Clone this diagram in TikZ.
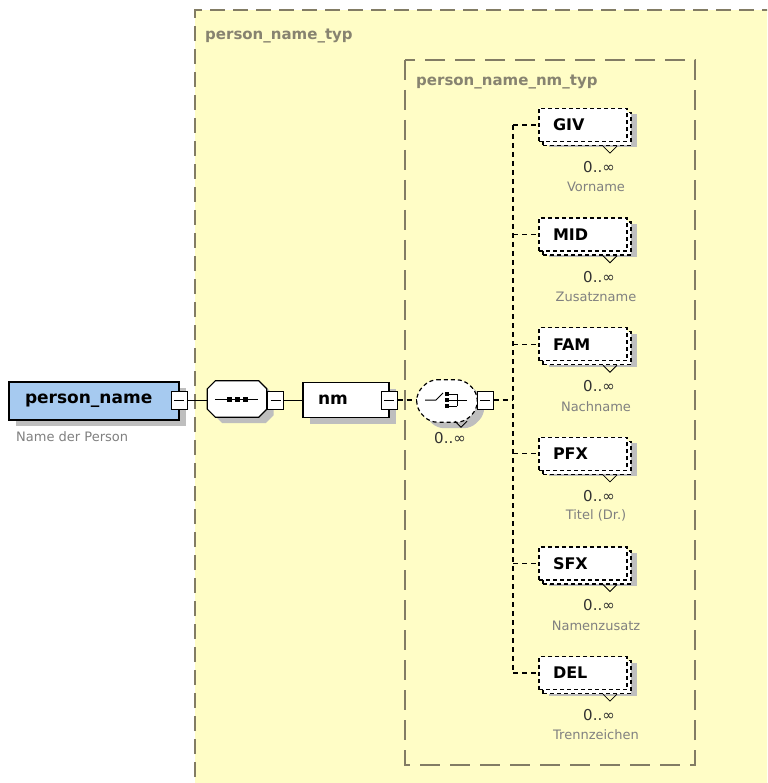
\documentclass[tikz,border=0pt]{standalone}
\usepackage{fontspec}
\setmainfont{DejaVu Sans}
\usetikzlibrary{shadows,positioning}

\definecolor{typfill}{RGB}{255,253,198}
\definecolor{typline}{RGB}{130,124,100}
\definecolor{typtext}{RGB}{135,131,112}
\definecolor{elemblue}{RGB}{166,202,240}
\definecolor{shadowgray}{RGB}{190,190,190}
\definecolor{notegray}{RGB}{128,128,128}
\definecolor{multgray}{RGB}{50,50,50}

\newcommand\fs[1]{\fontsize{#1}{#1}\selectfont}
% octagon round a node, corners cut by #2
\newcommand\oct[2]{([xshift=#2]#1.north west) -- ([xshift=-#2]#1.north east)
  -- ([yshift=-#2]#1.north east) -- ([yshift=#2]#1.south east)
  -- ([xshift=-#2]#1.south east) -- ([xshift=#2]#1.south west)
  -- ([yshift=#2]#1.south west) -- ([yshift=-#2]#1.north west) -- cycle}

\tikzset{
  typbox/.style={draw=typline, line width=1.3pt, dash pattern=on 15pt off 8pt},
  typlabel/.style={anchor=west, inner sep=0pt, text=typtext, font=\fs{15}\bfseries},
  elem/.style={draw, line width=1.2pt, fill=white, inner ysep=0pt, align=left,
    font=\fs{17}\bfseries,
    drop shadow={shadow xshift=7pt, shadow yshift=-6pt, fill=shadowgray, opacity=1, draw=none}},
  child/.style={draw, line width=1.2pt, dash pattern=on 4pt off 3pt, fill=white,
    minimum height=33pt, text width=60pt, inner xsep=14pt, inner ysep=0pt, align=left,
    font=\fs{16}\bfseries,
    drop shadow={shadow xshift=10pt, shadow yshift=-6pt, fill=shadowgray, opacity=1, draw=none},
    copy shadow={shadow xshift=4pt, shadow yshift=-4pt, fill=white, draw=black,
      line width=1.2pt, dash pattern=on 4pt off 3pt}},
  compbox/.style={minimum width=59pt, minimum height=36pt, inner sep=0pt},
  shadowed/.style={transform canvas={xshift=7pt, yshift=-6pt}},
  toggle/.style={draw, fill=white, line width=1pt, minimum width=16pt, minimum height=18pt,
    inner sep=0pt,
    path picture={\draw[line width=1pt] ([xshift=3pt]path picture bounding box.west)
      -- ([xshift=-3pt]path picture bounding box.east);}},
  link/.style={line width=1pt},
  optlink/.style={line width=1.2pt, dash pattern=on 5pt off 4pt},
  note/.style={inner sep=0pt, text=notegray, font=\fs{13}},
  mult/.style={inner sep=0pt, text=multgray, font=\fs{15}},
}

\begin{document}
\begin{tikzpicture}[x=1pt, y=-1pt]
  \path[clip] (0,0) rectangle (767,783);
  \fill[white] (0,0) rectangle (767,783);

  % complex type person_name_typ
  \fill[typfill] (195,10) rectangle (790,800);
  \draw[typbox] (195,800) -- (195,10) -- (790,10);
  \node[typlabel] (typ) at (205,36) {person\_name\_typ};

  % complex type person_name_nm_typ
  \draw[typbox, dash pattern=on 20pt off 10pt] (405,60) rectangle (695,765);
  \node[typlabel] (nmtyp) at (416,82) {person\_name\_nm\_typ};

  % root element
  \node[elem, fill=elemblue, minimum height=38pt, text width=138pt, inner xsep=16pt] (pn) at (94,401) {person\_name};
  \node[toggle] (pnx) at (179,400) {};
  \node[note, anchor=west] (pndoc) at (16,437) {Name der Person};

  % sequence
  \node[compbox] (seq) at (237,399) {};
  \fill[shadowgray, shadowed] \oct{seq}{8pt};
  \filldraw[fill=white, line width=1.2pt] \oct{seq}{8pt};
  \draw[line width=1pt] ([xshift=-22pt]seq.center) -- ([xshift=21pt]seq.center);
  \foreach \dx in {-8,0,8}
    \fill ([xshift=\dx pt]seq.center) ++(-2.5,-2.5) rectangle ++(5,5);
  \node[toggle] (seqx) at (275.5,400) {};
  \draw[link] (pnx.east) -- (seq.west |- pnx.east);

  % nm
  \node[elem, minimum height=35pt, text width=56pt, inner xsep=15pt] (nm) at (346,400) {nm};
  \node[toggle] (nmx) at (389,400) {};
  \draw[link] (seqx.east) -- (nm.west);

  % choice 0..unbounded
  \node[compbox, minimum width=60pt, minimum height=42pt] (ch) at (447,401) {};
  \fill[shadowgray, shadowed, rounded corners=7pt] \oct{ch}{13pt};
  \filldraw[fill=white, optlink, dash pattern=on 4pt off 3pt, rounded corners=7pt] \oct{ch}{13pt};
  \draw[line width=1pt] ([xshift=-22pt,yshift=1pt]ch.center) -- ++(11,0) -- ++(7,-7);
  \foreach \dy in {-6,0,6}{
    \fill ([yshift=1pt]ch.center) ++(-1.8,\dy-1.8) rectangle ++(3.6,3.6);
    \draw[line width=1pt] ([yshift=1pt]ch.center) ++(2,\dy) -- ++(8,0);
  }
  \draw[line width=1pt] ([yshift=1pt]ch.center) ++(10,-6) -- ++(0,12);
  \draw[line width=1pt] ([yshift=1pt]ch.center) ++(10,0) -- ++(10,0);
  \draw[line width=0.8pt] ([xshift=8pt,yshift=1pt]ch.south) -- ++(6,6) -- ++(6,-6);
  \node[toggle] (chx) at (485,400) {};
  \node[mult] (chm) at (450,438) {0..∞};
  \draw[optlink] (nmx.east) -- (ch.west |- nmx.east);

  % child elements of person_name_nm_typ
  \foreach \tag/\doc [count=\i from 0] in {GIV/Vorname, MID/Zusatzname, FAM/Nachname,
      PFX/{Titel (Dr.)}, SFX/Namenzusatz, DEL/Trennzeichen}{
    \pgfmathsetmacro\yb{125+109.6*\i}
    \coordinate (j\i) at (513,\yb);
    \node[child] (c\i) at (583,\yb) {\tag};
    \draw[line width=0.8pt] ([xshift=20pt,yshift=-4pt]c\i.south) -- ++(7,7) -- ++(7,-7);
    \node[mult] (m\i) at (599,\yb+42) {0..∞};
    \node[note] (d\i) at (596,\yb+62) {\doc};
    \draw[optlink] (j\i) -- (c\i.west);
  }
  \draw[optlink] (j0) -- (j5);
  \draw[optlink] (chx.east) -- (chx.east -| j0);
\end{tikzpicture}
\end{document}
